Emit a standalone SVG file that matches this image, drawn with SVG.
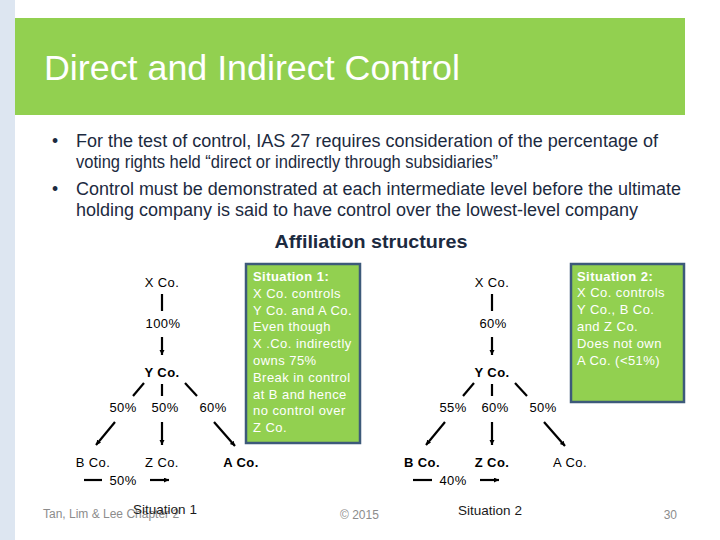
<svg xmlns="http://www.w3.org/2000/svg" width="720" height="540" viewBox="0 0 720 540">
<style>
  .lbl { font-family: "Liberation Sans", Arial, sans-serif; font-size: 13px; fill: #000; letter-spacing: 0.4px; text-anchor: middle; }
  .b { font-weight: bold; }
  .bx { font-family: "Liberation Sans", Arial, sans-serif; font-size: 13px; fill: #ffffff; letter-spacing: 0.45px; }
  .bul { font-family: "Liberation Sans", Arial, sans-serif; font-size: 17.5px; fill: #1c2a40; }
  .foot { font-family: "Liberation Sans", Arial, sans-serif; font-size: 12px; fill: #8c8c8c; }
  .sit { font-family: "Liberation Sans", Arial, sans-serif; font-size: 13.5px; fill: #1a1a1a; text-anchor: middle; }
  .ln { stroke: #000; stroke-width: 2.2; fill: none; }
  .box { fill: #92d050; stroke: #3d5a7a; stroke-width: 2.5; }
</style>
<defs>
  <marker id="ah" markerUnits="userSpaceOnUse" markerWidth="6" markerHeight="6" refX="5" refY="2.5" orient="auto">
    <path d="M0,0 L5,2.5 L0,5 z" fill="#000"/>
  </marker>
</defs>
<rect x="0" y="0" width="720" height="540" fill="#ffffff"/>
<rect x="0" y="0" width="15" height="540" fill="#dde6f1"/>
<rect x="15" y="18" width="670" height="97" fill="#92d050"/>
<text x="44" y="80" font-family="'Liberation Sans', Arial, sans-serif" font-size="35" fill="#ffffff" textLength="416" lengthAdjust="spacingAndGlyphs">Direct and Indirect Control</text>

<g id="bullets">
  <text class="bul" x="52" y="147">•</text>
  <text class="bul" x="76" y="147" textLength="582" lengthAdjust="spacingAndGlyphs">For the test of control, IAS 27 requires consideration of the percentage of</text>
  <text class="bul" x="76" y="168" textLength="422" lengthAdjust="spacingAndGlyphs">voting rights held “direct or indirectly through subsidiaries”</text>
  <text class="bul" x="52" y="195">•</text>
  <text class="bul" x="76" y="195" textLength="605" lengthAdjust="spacingAndGlyphs">Control must be demonstrated at each intermediate level before the ultimate</text>
  <text class="bul" x="76" y="216" textLength="562" lengthAdjust="spacingAndGlyphs">holding company is said to have control over the lowest-level company</text>
</g>
<text x="371" y="248" font-family="'Liberation Sans', Arial, sans-serif" font-size="19" font-weight="bold" fill="#1c2a40" text-anchor="middle" textLength="193" lengthAdjust="spacingAndGlyphs">Affiliation structures</text>

<g id="connectors">
  <!-- Situation 1 -->
  <line class="ln" x1="162" y1="294" x2="162" y2="311"/>
  <line class="ln" x1="162" y1="337" x2="162" y2="355" marker-end="url(#ah)"/>
  <line class="ln" x1="144" y1="383" x2="133" y2="396"/>
  <line class="ln" x1="162" y1="384" x2="162" y2="396"/>
  <line class="ln" x1="185" y1="383" x2="197" y2="396"/>
  <line class="ln" x1="115" y1="422" x2="96" y2="445" marker-end="url(#ah)"/>
  <line class="ln" x1="162" y1="422" x2="162" y2="445" marker-end="url(#ah)"/>
  <line class="ln" x1="214" y1="422" x2="235" y2="446" marker-end="url(#ah)"/>
  <line class="ln" x1="84" y1="480" x2="102" y2="480"/>
  <line class="ln" x1="150" y1="480" x2="169" y2="480" marker-end="url(#ah)"/>
  <!-- Situation 2 -->
  <line class="ln" x1="492" y1="294" x2="492" y2="311"/>
  <line class="ln" x1="492" y1="337" x2="492" y2="355" marker-end="url(#ah)"/>
  <line class="ln" x1="474" y1="383" x2="463" y2="396"/>
  <line class="ln" x1="492" y1="384" x2="492" y2="396"/>
  <line class="ln" x1="515" y1="383" x2="527" y2="396"/>
  <line class="ln" x1="445" y1="422" x2="426" y2="445" marker-end="url(#ah)"/>
  <line class="ln" x1="492" y1="422" x2="492" y2="445" marker-end="url(#ah)"/>
  <line class="ln" x1="544" y1="422" x2="565" y2="446" marker-end="url(#ah)"/>
  <line class="ln" x1="413" y1="480" x2="432" y2="480"/>
  <line class="ln" x1="480" y1="480" x2="499" y2="480" marker-end="url(#ah)"/>
</g>

<g id="edge-labels">
  <text class="lbl" x="163" y="328">100%</text>
  <text class="lbl" x="123" y="412">50%</text>
  <text class="lbl" x="165" y="412">50%</text>
  <text class="lbl" x="213" y="412">60%</text>
  <text class="lbl" x="123" y="485">50%</text>
  <text class="lbl" x="493" y="328">60%</text>
  <text class="lbl" x="453" y="412">55%</text>
  <text class="lbl" x="495" y="412">60%</text>
  <text class="lbl" x="543" y="412">50%</text>
  <text class="lbl" x="453" y="485">40%</text>
</g>

<g id="s1-x"><text class="lbl" x="162" y="287">X Co.</text></g>
<g id="s1-y"><text class="lbl b" x="162" y="377">Y Co.</text></g>
<g id="s1-b"><text class="lbl" x="93" y="467">B Co.</text></g>
<g id="s1-z"><text class="lbl" x="162" y="467">Z Co.</text></g>
<g id="s1-a"><text class="lbl b" x="241" y="467">A Co.</text></g>

<g id="s2-x"><text class="lbl" x="492" y="287">X Co.</text></g>
<g id="s2-y"><text class="lbl b" x="492" y="377">Y Co.</text></g>
<g id="s2-b"><text class="lbl b" x="422" y="467">B Co.</text></g>
<g id="s2-z"><text class="lbl b" x="492" y="467">Z Co.</text></g>
<g id="s2-a"><text class="lbl" x="570" y="467">A Co.</text></g>

<g id="note1">
  <rect class="box" x="246" y="264" width="114" height="179"/>
  <text class="bx b" x="253" y="281">Situation 1:</text>
  <text class="bx" x="253" y="297.8">X Co. controls</text>
  <text class="bx" x="253" y="314.6">Y Co. and A Co.</text>
  <text class="bx" x="253" y="331.4">Even though</text>
  <text class="bx" x="253" y="348.2">X .Co. indirectly</text>
  <text class="bx" x="253" y="365">owns 75%</text>
  <text class="bx" x="253" y="381.8">Break in control</text>
  <text class="bx" x="253" y="398.6">at B and hence</text>
  <text class="bx" x="253" y="415.4">no control over</text>
  <text class="bx" x="253" y="432.2">Z Co.</text>
</g>

<g id="note2">
  <rect class="box" x="571" y="264" width="113" height="138"/>
  <text class="bx b" x="577" y="280.5">Situation 2:</text>
  <text class="bx" x="577" y="297.3">X Co. controls</text>
  <text class="bx" x="577" y="314.1">Y Co., B Co.</text>
  <text class="bx" x="577" y="330.9">and Z Co.</text>
  <text class="bx" x="577" y="347.7">Does not own</text>
  <text class="bx" x="577" y="364.5">A Co. (&lt;51%)</text>
</g>

<g id="footer">
  <text class="foot" x="43" y="518">Tan, Lim &amp; Lee Chapter 2</text>
  <text class="sit" x="165" y="514">Situation 1</text>
  <text class="foot" x="340" y="519">© 2015</text>
  <text class="sit" x="490" y="515">Situation 2</text>
  <text class="foot" x="677" y="519" text-anchor="end">30</text>
</g>
</svg>
